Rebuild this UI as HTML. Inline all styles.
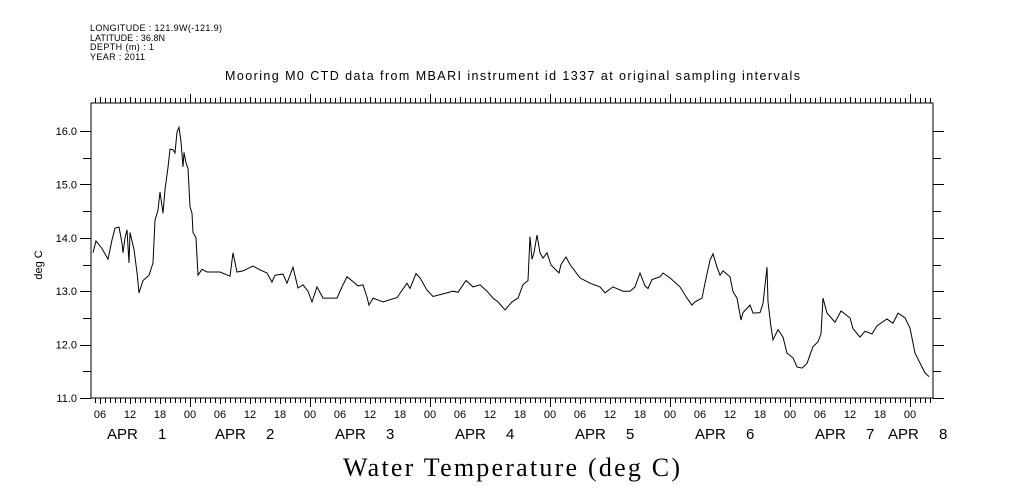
<!DOCTYPE html>
<html><head><meta charset="utf-8"><style>
html,body{margin:0;padding:0;background:#fff;}
svg{display:block;}
text{font-family:"Liberation Sans",sans-serif;fill:#000;}
</style></head><body>
<svg id="chart" width="1009" height="504" viewBox="0 0 1009 504">
<g font-size="9">
<text x="90" y="31" textLength="132">LONGITUDE : 121.9W(-121.9)</text>
<text x="90" y="41" textLength="75">LATITUDE : 36.8N</text>
<text x="90" y="50" textLength="64">DEPTH (m) : 1</text>
<text x="90" y="60" textLength="55">YEAR : 2011</text>
</g>
<text x="225" y="80" font-size="12.5" textLength="575">Mooring M0 CTD data from MBARI instrument id 1337 at original sampling intervals</text>
<text x="343" y="476" font-size="26" textLength="337" style="font-family:'Liberation Serif',serif">Water Temperature (deg C)</text>
<text transform="translate(42,265) rotate(-90)" font-size="11" text-anchor="middle">deg C</text>
<g id="axes"></g>
<path id="line" fill="none" stroke="#000" stroke-width="1"></path>
</svg>
<script>
const hours=[4.6,5.2,6.4,7.6,8.4,9,9.8,10.4,10.6,11,11.4,11.8,12,12.8,13.4,13.8,14.6,15.8,16.6,17,17.6,18,18.6,19,19.6,20,20.6,21,21.4,21.8,22.2,22.6,22.8,23.2,23.6,24,24.4,24.6,25.2,25.6,26.4,27.4,30,32,32.6,33.4,34.6,36.6,38,39.4,40.4,41,42.6,43.4,44.6,45.6,46.6,47.6,48.4,49.4,50.6,53.4,54.4,55.4,56.6,57.6,58.6,59.4,59.8,60.6,62.6,65.4,67.4,68,69.2,70,71.4,72.6,74.6,76.6,77.6,79.2,80.6,82,83.4,84.6,85.6,87,88.4,89.6,90.6,91.6,92,92.4,92.8,93.4,94,94.6,95.4,96.2,97.8,98.2,99.2,100,102,104,106,107,108.6,110.6,112,113,114,115,115.6,116.4,118,118.6,120,122,123.4,124.4,125,126.4,127,128,128.6,129.4,130,130.6,132,132.6,133.4,134.2,134.6,136,136.6,138,138.6,139.4,139.6,140.2,140.6,141.6,142.6,143.4,144.6,145.4,146.4,147.4,148.6,149.6,150.2,150.6,151.4,153,154.2,156,156.6,158,159,160.4,161.4,163.4,164.6,165.6,167,168,169,170.4,171,171.8];
const temps=[13.72,13.94,13.8,13.6,13.96,14.18,14.2,13.9,13.72,14.0,14.15,13.53,14.1,13.78,13.35,12.97,13.2,13.3,13.53,14.33,14.52,14.86,14.46,14.9,15.32,15.66,15.65,15.59,15.98,16.07,15.8,15.33,15.6,15.4,15.3,14.58,14.46,14.1,14.0,13.3,13.41,13.36,13.36,13.28,13.72,13.36,13.38,13.47,13.4,13.34,13.17,13.3,13.32,13.15,13.45,13.06,13.12,13.0,12.8,13.08,12.87,12.87,13.08,13.27,13.18,13.1,13.12,12.89,12.74,12.87,12.8,12.88,13.15,13.05,13.33,13.25,13.02,12.9,12.95,13.0,12.98,13.2,13.08,13.12,13.0,12.87,12.8,12.65,12.8,12.87,13.12,13.2,14.02,13.6,13.72,14.05,13.72,13.62,13.72,13.49,13.34,13.5,13.64,13.5,13.25,13.15,13.08,12.97,13.08,13.0,13.0,13.08,13.34,13.1,13.05,13.22,13.27,13.34,13.25,13.08,12.87,12.74,12.8,12.87,13.15,13.58,13.7,13.45,13.3,13.38,13.27,12.99,12.87,12.46,12.6,12.74,12.59,12.6,12.77,13.45,12.8,12.33,12.09,12.28,12.14,11.84,11.75,11.58,11.56,11.65,11.96,12.05,12.2,12.87,12.59,12.42,12.63,12.5,12.3,12.14,12.25,12.2,12.35,12.48,12.4,12.59,12.5,12.31,11.84,11.58,11.47,11.4];
const yTicks=[11,12,13,14,15,16];
const yTickLabels=["11.0","12.0","13.0","14.0","15.0","16.0"];
const hourLabels=["06","12","18","00"];
const dayLabels=["1","2","3","4","5","6","7","8"];

const L=91,R=933,T=103,B=398;
const Y16=131;
const H0=4.2, H1=172.6;
const xS=h=>L+(h-H0)/(H1-H0)*(R-L);
const yS=v=>B-(v-11)/(16-11)*(B-Y16);
const NS='http://www.w3.org/2000/svg';
const ax=document.getElementById('axes');
function mk(tag,attrs,parent){const e=document.createElementNS(NS,tag);for(const k in attrs)e.setAttribute(k,attrs[k]);(parent||ax).appendChild(e);return e;}
let fr=mk('rect',{x:L,y:T,width:R-L,height:B-T,fill:'none',stroke:'#000','stroke-width':1});


let d='';
for(let h=Math.ceil(H0);h<=H1;h++){const x=Math.round(xS(h))+0.5;const len=(h%24===0)?9:(h%6===0?6:5);d+=`M${x} ${B}v${len}M${x} ${T}v${-len}`;}
for(let v=11;v<=16.001;v+=0.5){const y=Math.round(yS(v))+0.5;const major=Math.abs(v-Math.round(v))<0.01;const len=major?11:8;d+=`M${L} ${y}h${-len}M${R} ${y}h${len}`;}
let tk=mk('path',{d:d,stroke:'#000','stroke-width':1,fill:'none'});


yTicks.forEach((v,i)=>{const t=mk('text',{x:L-14,y:yS(v)+4,'font-size':11,'text-anchor':'end'});t.textContent=yTickLabels[i];

});
for(let h=6;h<=H1;h+=6){const t=mk('text',{x:xS(h),y:418,'font-size':11,'text-anchor':'middle'});t.textContent=hourLabels[(h/6-1)%4];

}
dayLabels.forEach((lab,i)=>{let ax0=(i===0)?107:(i===7?888:215+120*(i-1));
const a=mk('text',{x:ax0,y:439,'font-size':15});a.textContent='APR';


const n=mk('text',{x:ax0+51,y:439,'font-size':15});n.textContent=lab;

});
document.getElementById('line').setAttribute('d',hours.map((h,i)=>(i?'L':'M')+xS(h).toFixed(1)+' '+yS(temps[i]).toFixed(1)).join(''));
</script>
</body></html>
